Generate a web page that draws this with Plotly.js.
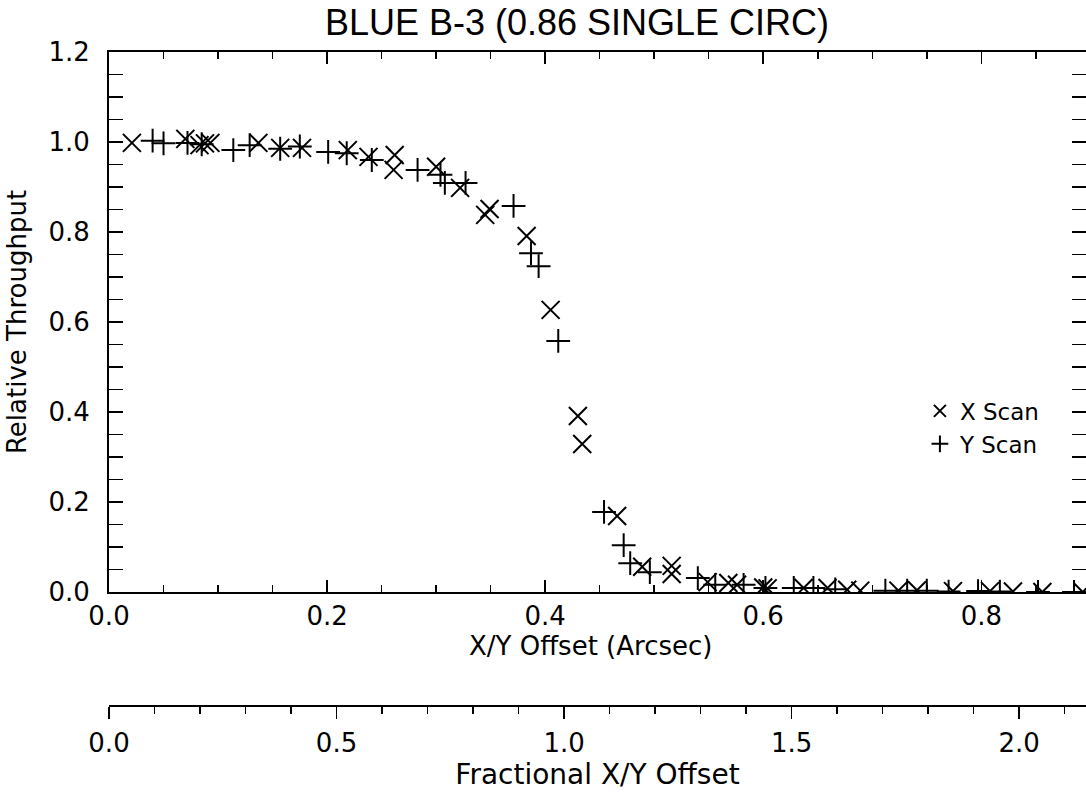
<!DOCTYPE html>
<html>
<head>
<meta charset="utf-8">
<script src="https://cdn.plot.ly/plotly-3.0.1.min.js"></script>
<style>html,body{margin:0;padding:0;background:#fff;}#chart{width:1086px;height:796px;}</style>
</head>
<body>
<div id="chart"></div>
<script>
// X scan (x-shaped markers)
const xScanOffset = [0.021,0.070,0.083,0.088,0.093,0.137,0.157,0.177,0.219,0.238,0.262,0.261,0.300,0.322,0.345,0.349,0.383,0.405,0.430,0.434,0.466,0.489,0.516,0.516,0.549,0.568,0.576,0.600,0.604,0.637,0.659,0.677,0.689,0.724,0.741,0.774,0.808,0.829,0.856,0.893];
const xScanThroughput = [0.998,1.007,0.993,0.997,0.998,0.998,0.987,0.987,0.982,0.967,0.971,0.938,0.945,0.898,0.838,0.851,0.791,0.627,0.391,0.329,0.169,0.056,0.058,0.040,0.022,0.020,0.016,0.010,0.008,0.009,0.009,0.005,0.003,0.003,0.004,0.002,0.002,0.001,0.000,0.000];
// Y scan (plus markers)
const yScanOffset = [0.040,0.050,0.072,0.085,0.114,0.129,0.157,0.175,0.201,0.218,0.241,0.283,0.304,0.308,0.327,0.371,0.387,0.394,0.412,0.454,0.472,0.478,0.496,0.540,0.556,0.582,0.602,0.628,0.646,0.666,0.712,0.732,0.750,0.770,0.797,0.817,0.852,0.885];
const yScanThroughput = [1.003,0.997,0.998,0.995,0.982,0.993,0.985,0.990,0.978,0.975,0.960,0.938,0.927,0.909,0.909,0.858,0.753,0.724,0.558,0.178,0.104,0.064,0.044,0.031,0.016,0.016,0.009,0.009,0.009,0.006,0.003,0.003,0.003,0.001,0.002,0.001,0.000,0.000];

// Tick labels
const xTickVals = [0.0,0.2,0.4,0.6,0.8];
const xTickText = ["0.0","0.2","0.4","0.6","0.8"];
const yTickVals = [0.0,0.2,0.4,0.6,0.8,1.0,1.2];
const yTickText = ["0.0","0.2","0.4","0.6","0.8","1.0","1.2"];
const fracTickVals = [0.0,0.5,1.0,1.5,2.0];
const fracTickText = ["0.0","0.5","1.0","1.5","2.0"];

const FONT = "DejaVu Sans, Liberation Sans, sans-serif";

const traces = [
  {
    x: xScanOffset, y: xScanThroughput, name: "X Scan", type: "scatter", mode: "markers",
    marker: {symbol: "x-thin-open", size: 18, color: "#000", line: {color: "#000", width: 2}}
  },
  {
    x: yScanOffset, y: yScanThroughput, name: "Y Scan", type: "scatter", mode: "markers",
    marker: {symbol: "cross-thin-open", size: 17, color: "#000", line: {color: "#000", width: 2}}
  },
  {
    x: [], y: [], xaxis: "x2", yaxis: "y", type: "scatter", mode: "markers",
    showlegend: false, hoverinfo: "skip"
  }
];

const layout = {
  width: 1086, height: 796,
  paper_bgcolor: "#fff", plot_bgcolor: "#fff",
  margin: {l: 109, r: 0, t: 52, b: 90},
  font: {family: FONT, size: 26, color: "#000"},
  title: {
    text: "BLUE B-3 (0.86 SINGLE CIRC)",
    font: {family: "Liberation Sans, Arial, sans-serif", size: 36, color: "#000"},
    x: 0.479, xref: "paper", xanchor: "center",
    y: 0.972, yref: "container", yanchor: "middle"
  },
  showlegend: true,
  legend: {
    x: 0.83, y: 0.484, xanchor: "left", yanchor: "top",
    bgcolor: "rgba(0,0,0,0)", borderwidth: 0,
    font: {family: FONT, size: 23, color: "#000"},
    tracegroupgap: 0, itemsizing: "constant"
  },
  annotations: [
    {
      text: "X/Y Offset (Arcsec)", xref: "paper", yref: "paper",
      x: 0.493, y: 0.0925, xanchor: "center", yanchor: "middle", showarrow: false,
      font: {family: FONT, size: 26, color: "#000"}
    }
  ],
  xaxis: {
    range: [0, 0.896], anchor: "y",
    showline: true, linecolor: "#000", linewidth: 2, mirror: "allticks",
    ticks: "inside", ticklen: 12, tickwidth: 1.5, tickcolor: "#000",
    tickvals: xTickVals, ticktext: xTickText,
    minor: {dtick: 0.05, tick0: 0, ticks: "inside", ticklen: 7, tickwidth: 1.5, tickcolor: "#000", showgrid: false},
    showgrid: false, zeroline: false,
    tickfont: {family: FONT, size: 26, color: "#000"},
    ticklabelstandoff: 0
  },
  xaxis2: {
    range: [0, 2.147], overlaying: "x", anchor: "free", position: 0, side: "bottom",
    showline: true, linecolor: "#000", linewidth: 2,
    ticks: "outside", ticklen: 12, tickwidth: 1.5, tickcolor: "#000",
    tickvals: fracTickVals, ticktext: fracTickText,
    minor: {dtick: 0.1, tick0: 0, ticks: "outside", ticklen: 7, tickwidth: 1.5, tickcolor: "#000", showgrid: false},
    showgrid: false, zeroline: false,
    tickfont: {family: FONT, size: 26, color: "#000"},
    ticklabelstandoff: 2,
    title: {text: "Fractional X/Y Offset", font: {family: FONT, size: 28, color: "#000"}, standoff: 4}
  },
  yaxis: {
    range: [0, 1.2], domain: [0.1743, 1],
    showline: true, linecolor: "#000", linewidth: 2, mirror: "allticks",
    ticks: "inside", ticklen: 14, tickwidth: 1.5, tickcolor: "#000",
    tickvals: yTickVals, ticktext: yTickText,
    minor: {dtick: 0.05, tick0: 0, ticks: "inside", ticklen: 8, tickwidth: 1.5, tickcolor: "#000", showgrid: false},
    showgrid: false, zeroline: false,
    tickfont: {family: FONT, size: 26, color: "#000"},
    ticklabelstandoff: 12,
    title: {text: "Relative Throughput", font: {family: FONT, size: 26, color: "#000"}, standoff: 14}
  }
};

Plotly.newPlot("chart", traces, layout, {displayModeBar: false, staticPlot: true});
</script>
</body>
</html>
